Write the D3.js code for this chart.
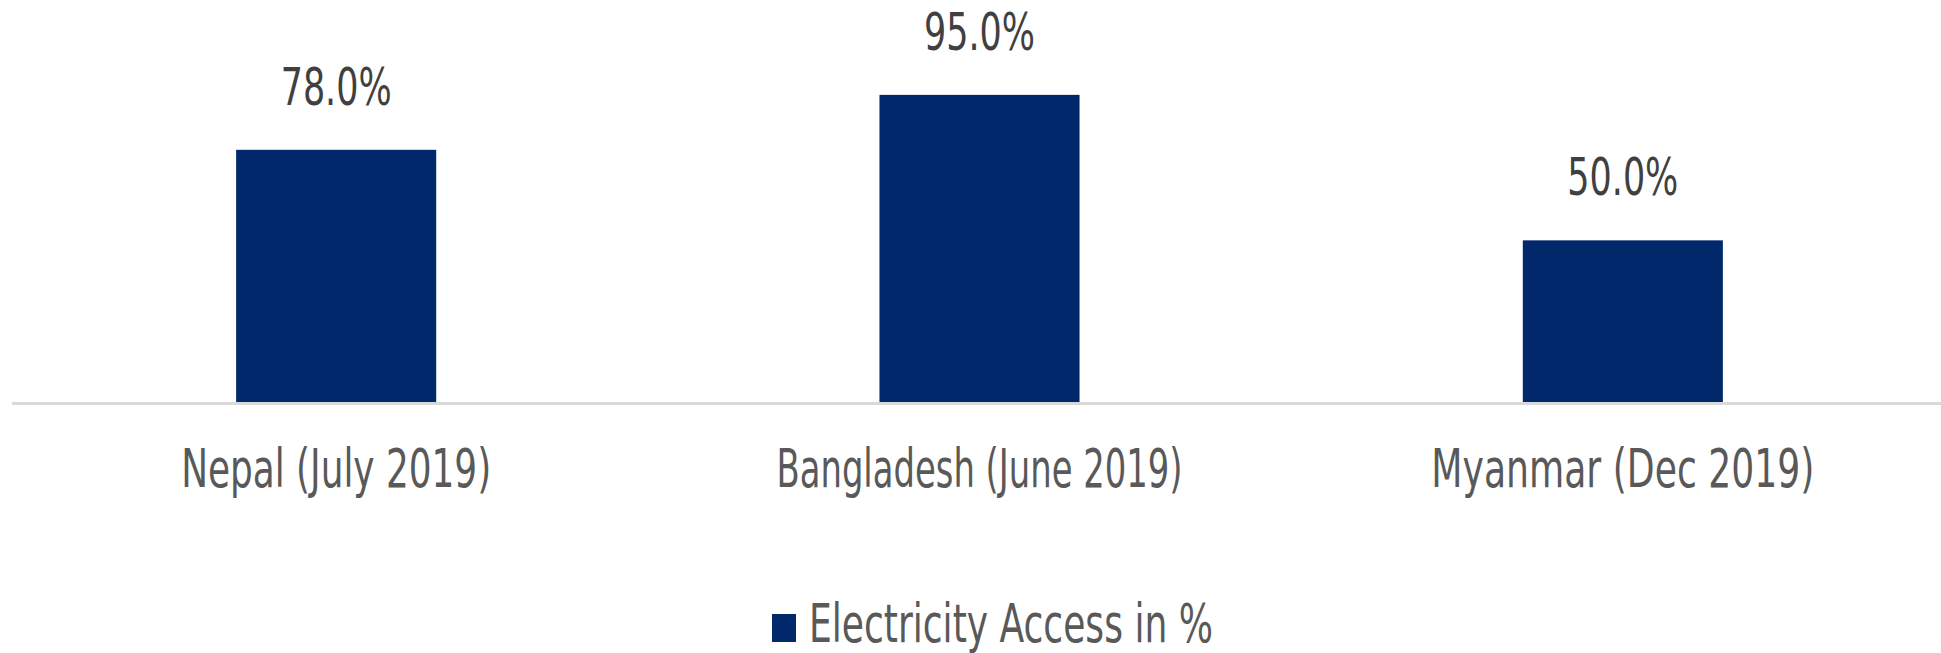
<!DOCTYPE html>
<html>
<head>
<meta charset="utf-8">
<script src="https://cdn.jsdelivr.net/npm/d3@7"></script>
<style>
  html, body { margin: 0; padding: 0; background: #fff; }
  svg { display: block; }
  text { font-family: "Liberation Sans Narrow", "DejaVu Sans Condensed", "Liberation Sans", sans-serif; }
</style>
</head>
<body>
<svg id="chart" width="1941" height="653"></svg>
<script>
const categories = ["Nepal (July 2019)", "Bangladesh (June 2019)", "Myanmar (Dec 2019)"];
const values = [78.0, 95.0, 50.0];
const seriesName = "Electricity Access in %";

const W = 1941, H = 653;
const svg = d3.select("#chart");

const x = d3.scaleBand()
  .domain(categories)
  .range([14.5, 1944.5])
  .paddingInner(0.689)
  .paddingOuter(0.3445);

const y = d3.scaleLinear().domain([0, 100]).range([402, 78.7]);

const barColor = "#00286a";

// bars
svg.append("g").selectAll("rect")
  .data(categories)
  .join("rect")
  .attr("x", d => x(d))
  .attr("y", (d, i) => y(values[i]))
  .attr("width", x.bandwidth())
  .attr("height", (d, i) => y(0) - y(values[i]))
  .attr("fill", barColor);

// axis line
svg.append("line")
  .attr("x1", 12).attr("x2", W)
  .attr("y1", y(0) + 1.5).attr("y2", y(0) + 1.5)
  .attr("stroke", "#d9d9d9").attr("stroke-width", 3);

// data labels
svg.append("g").selectAll("text")
  .data(categories)
  .join("text")
  .attr("x", d => x(d) + x.bandwidth() / 2)
  .attr("y", (d, i) => y(values[i]) - 45)
  .attr("text-anchor", "middle")
  .attr("font-size", 52)
  .attr("fill", "#404040")
  .attr("textLength", 111)
  .attr("lengthAdjust", "spacingAndGlyphs")
  .text((d, i) => values[i].toFixed(1) + "%");

// category labels
const catWidths = [310, 406, 383];
svg.append("g").selectAll("text")
  .data(categories)
  .join("text")
  .attr("x", d => x(d) + x.bandwidth() / 2)
  .attr("y", 487)
  .attr("text-anchor", "middle")
  .attr("font-size", 54)
  .attr("fill", "#595959")
  .attr("textLength", (d, i) => catWidths[i])
  .attr("lengthAdjust", "spacingAndGlyphs")
  .text(d => d);

// legend
const lg = svg.append("g");
lg.append("rect")
  .attr("x", 772).attr("y", 614)
  .attr("width", 24).attr("height", 28)
  .attr("fill", barColor);
lg.append("text")
  .attr("x", 809).attr("y", 642)
  .attr("font-size", 54)
  .attr("fill", "#595959")
  .attr("textLength", 404)
  .attr("lengthAdjust", "spacingAndGlyphs")
  .text(seriesName);
</script>
</body>
</html>
